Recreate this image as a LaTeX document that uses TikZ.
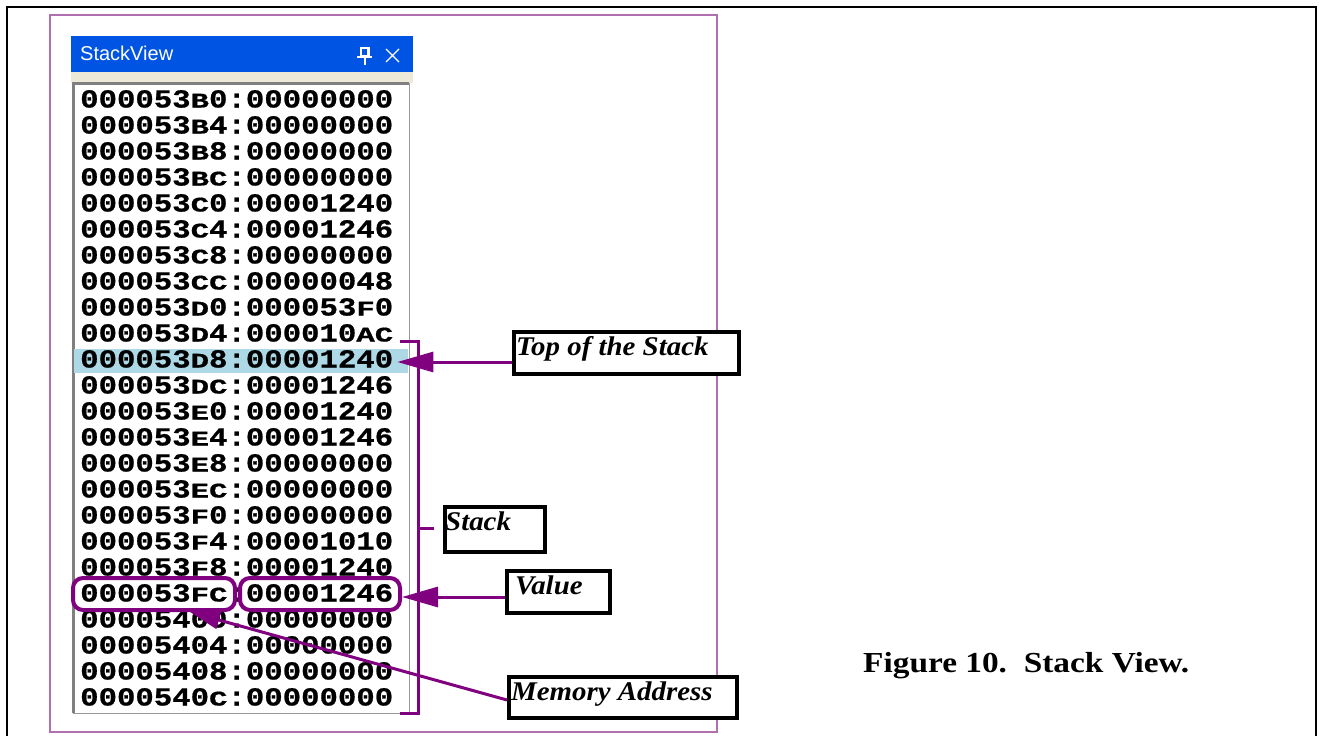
\documentclass[tikz,border=0pt]{standalone}
\usepackage{fontspec}
\usepackage{graphicx}
\usetikzlibrary{arrows.meta}
\setmainfont{Liberation Serif}
\newfontfamily\rowfont{Liberation Mono}[FakeStretch=1.18,FakeBold=0.8]
\newfontfamily\uifont{Liberation Sans}
\newfontfamily\lblfont{Liberation Serif}[FakeStretch=1.07]
\newfontfamily\capfont{Liberation Serif}[FakeStretch=1.15]
% hex letters of the bitmap font are set shorter than the digits
\newcommand{\hx}[1]{\scalebox{1}[0.8]{#1}}
\definecolor{xpblue}{HTML}{0054E3}
\definecolor{xpbeige}{HTML}{ECE9D8}
\definecolor{selrow}{HTML}{ADD8E6}
\definecolor{annot}{HTML}{800080}
\definecolor{pageframe}{HTML}{B070B0}
\tikzset{
  rowtxt/.style={anchor=base west, inner sep=0pt, font=\rowfont\bfseries\fontsize{26}{28}\selectfont},
  lblbox/.style={draw=black, line width=4pt, fill=white, inner sep=0pt},
  lbltxt/.style={anchor=base west, inner sep=0pt, font=\lblfont\bfseries\itshape\fontsize{27}{32}\selectfont},
  oval/.style={draw=annot, line width=4pt, rounded corners=10pt, inner sep=0pt},
  ptr/.style={draw=annot, line width=3pt, -{Triangle[length=36pt,width=20pt]}},
  bracket/.style={draw=annot, line width=3pt},
}
\begin{document}
\begin{tikzpicture}[x=1pt,y=-1pt]
\useasboundingbox (0,0) rectangle (1320,736);
\fill[white] (0,0) rectangle (1320,736);

% page frame
\draw[line width=2.5pt] (7,736) -- (7,7) -- (1316,7) -- (1316,736);
\draw[pageframe, line width=1.5pt] (50,15) rectangle (717,732);

% StackView window
\fill[xpblue] (71,36) rectangle (413,72);
\fill[xpbeige] (71,72) rectangle (413,83);
\fill[white] (73,83) rectangle (409,713);
\draw[gray!80, line width=1pt] (409,83) -- (409,713) -- (73,713);
\draw[gray, line width=2.5pt] (73.5,713) -- (73.5,83.5) -- (409,83.5);
\node[anchor=base west, inner sep=0pt, text=white, font=\uifont\fontsize{20}{22}\selectfont] (title) at (80,60) {StackView};
% pin and close buttons
\draw[white, line width=2pt] (361,47.5) rectangle (368,56);
\draw[white, line width=3pt] (368,47) -- (368,56);
\draw[white, line width=2pt] (357,57) -- (372,57);
\draw[white, line width=2pt] (364.5,57) -- (364.5,65);
\draw[white, line width=1.3pt] (386,49) -- (399,62) (386,62) -- (399,49);

% selected row
\fill[selrow] (74,349) rectangle (408,373);

% stack rows
\foreach \a/\v [count=\i from 0] in {
  000053\hx{B}0/00000000, 000053\hx{B}4/00000000, 000053\hx{B}8/00000000,
  000053\hx{BC}/00000000, 000053\hx{C}0/00001240, 000053\hx{C}4/00001246,
  000053\hx{C}8/00000000, 000053\hx{CC}/00000048, 000053\hx{D}0/000053\hx{F}0,
  000053\hx{D}4/000010\hx{AC}, 000053\hx{D}8/00001240, 000053\hx{DC}/00001246,
  000053\hx{E}0/00001240, 000053\hx{E}4/00001246, 000053\hx{E}8/00000000,
  000053\hx{EC}/00000000, 000053\hx{F}0/00000000, 000053\hx{F}4/00001010,
  000053\hx{F}8/00001240, 000053\hx{FC}/00001246, 00005400/00000000,
  00005404/00000000, 00005408/00000000, 0000540\hx{C}/00000000}
  \node[rowtxt] (r\i) at (80,{107.5+26*\i}) {\a:\v};

% address / value outlines
\node[oval, minimum width=162pt, minimum height=32pt] (addroval) at (154,594) {};
\node[oval, minimum width=160pt, minimum height=32pt] (valoval) at (320,594) {};

% stack bracket
\draw[bracket] (400,341) -- (418,341) -- (418,713) -- (400,713);

% label boxes
\node[lblbox, minimum width=225pt, minimum height=42pt] (tosbox) at (626.5,353) {};
\node[lbltxt] (tostxt) at (516,355) {Top of the Stack};
\node[lblbox, minimum width=100pt, minimum height=45pt] (stackbox) at (495,529.5) {};
\node[lbltxt] (stacktxt) at (445,530) {Stack};
\node[lblbox, minimum width=103pt, minimum height=42pt] (valbox) at (558.5,592) {};
\node[lbltxt] (valtxt) at (515,594) {Value};
\node[lblbox, minimum width=228pt, minimum height=41pt] (membox) at (623,697.5) {};
\node[lbltxt] (memtxt) at (511,700) {Memory Address};

% connectors
\coordinate (tosstart) at ([yshift=-9pt]tosbox.west);
\draw[bracket] (418,528) -- ([xshift=-9pt,yshift=1.5pt]stackbox.west);
\draw[ptr] (tosstart) -- ([xshift=4pt]r10.east |- tosstart);
\draw[ptr] ([yshift=-5pt]valbox.west) -- ([yshift=-3pt]valoval.east);
\draw[ptr, -{Triangle[length=30pt,width=18pt]}] ([yshift=-2.5pt]membox.west) -- ([xshift=36pt]addroval.south);

% caption
\node[anchor=base west, inner sep=0pt, font=\capfont\bfseries\fontsize{29}{34}\selectfont] (caption) at (863,672) {Figure 10.\ \ Stack View.};
\end{tikzpicture}
\end{document}
